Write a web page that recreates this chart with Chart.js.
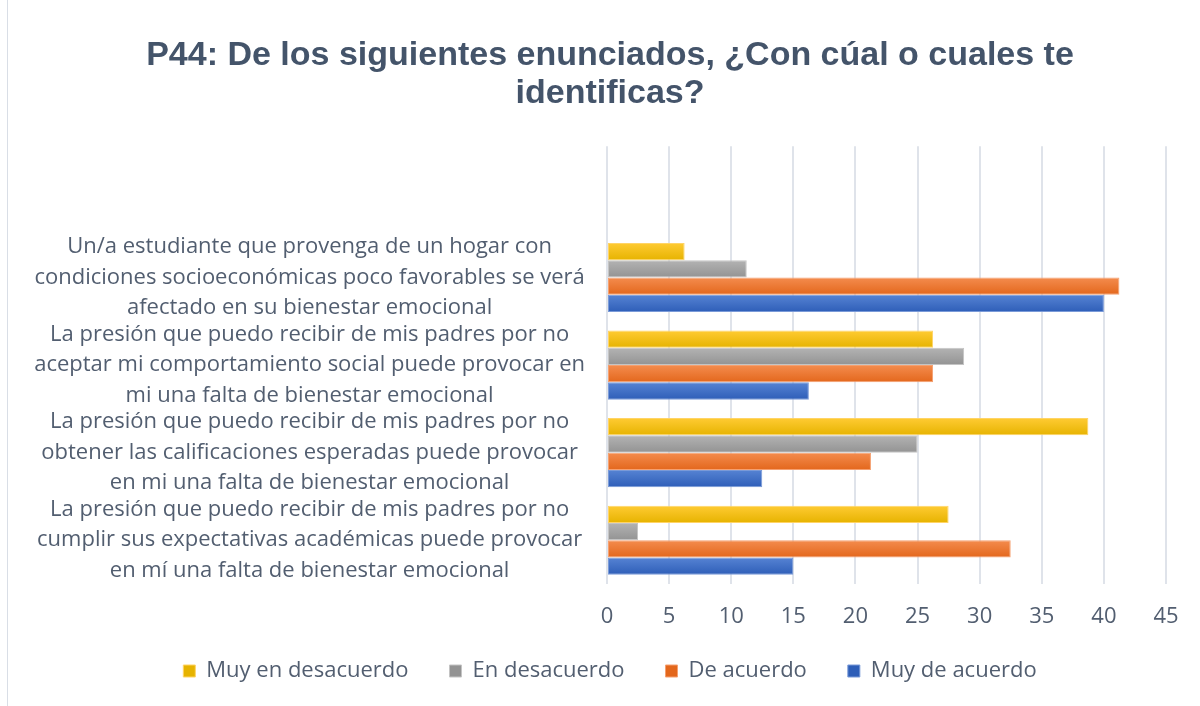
<!DOCTYPE html>
<html>
<head>
<meta charset="utf-8">
<script src="https://cdn.jsdelivr.net/npm/chart.js@4.4.1/dist/chart.umd.min.js"></script>
<style>
html, body { margin: 0; padding: 0; background: #fff; }
#wrap { position: relative; width: 1200px; height: 706px; overflow: hidden; }
#frame { position: absolute; left: 7px; top: 0; bottom: 0; border-left: 1px solid #d9dee6; }
canvas { position: absolute; left: 0; top: 0; }
</style>
</head>
<body>
<div id="wrap">
  <div id="frame"></div>
  <canvas id="p44Chart" width="1200" height="706"></canvas>
</div>
<script>
// first category is the empty slot Excel left at the top of the plot
const categories = [
    '',
    ['Un/a estudiante que provenga de un hogar con', 'condiciones socioeconómicas poco favorables se verá', 'afectado en su bienestar emocional'],
    ['La presión que puedo recibir de mis padres por no', 'aceptar mi comportamiento social puede provocar en', 'mi una falta de bienestar emocional'],
    ['La presión que puedo recibir de mis padres por no', 'obtener las calificaciones esperadas puede provocar', 'en mi una falta de bienestar emocional'],
    ['La presión que puedo recibir de mis padres por no', 'cumplir sus expectativas académicas puede provocar', 'en mí una falta de bienestar emocional']
];
const seriesNames = ['Muy en desacuerdo', 'En desacuerdo', 'De acuerdo', 'Muy de acuerdo'];
const muyEnDesacuerdo = [null, 6.25, 26.25, 38.75, 27.5];
const enDesacuerdo = [null, 11.25, 28.75, 25, 2.5];
const deAcuerdo = [null, 41.25, 26.25, 21.25, 32.5];
const muyDeAcuerdo = [null, 40, 16.25, 12.5, 15];
const xTicks = [0, 5, 10, 15, 20, 25, 30, 35, 40, 45];

const catPct = 0.79;
const textColor = '#525e70';
const bodyFont = 'Open Sans';

// Excel-like vertical shading on each bar
function barFill(top, bottom, flat) {
    return function (ctx) {
        if (ctx.type !== 'data') return flat;
        const chart = ctx.chart;
        const y = chart.scales.y;
        if (!y || !chart.chartArea) return flat;
        const band = (y.height / categories.length) * catPct / seriesNames.length;
        const c = y.getPixelForValue(ctx.dataIndex) + band * (ctx.datasetIndex - 1.5);
        const g = chart.ctx.createLinearGradient(0, c - band / 2, 0, c + band / 2);
        g.addColorStop(0, top);
        g.addColorStop(1, bottom);
        return g;
    };
}

const p44Ctx = document.getElementById('p44Chart').getContext('2d');
const p44Chart = new Chart(p44Ctx, {
    type: 'bar',
    data: {
        labels: categories,
        datasets: [{
            label: seriesNames[0],
            data: muyEnDesacuerdo,
            backgroundColor: barFill('#ffcb33', '#e6b300', '#ffc000'),
            borderColor: '#ffd466'
        }, {
            label: seriesNames[1],
            data: enDesacuerdo,
            backgroundColor: barFill('#b3b3b3', '#939393', '#a5a5a5'),
            borderColor: '#c4c4c4'
        }, {
            label: seriesNames[2],
            data: deAcuerdo,
            backgroundColor: barFill('#f48c4e', '#e3671c', '#ed7d31'),
            borderColor: '#f5a070'
        }, {
            label: seriesNames[3],
            data: muyDeAcuerdo,
            backgroundColor: barFill('#5683d3', '#2e5eb8', '#4472c4'),
            borderColor: '#7a9ad8'
        }]
    },
    options: {
        indexAxis: 'y',
        responsive: false,
        animation: false,
        datasets: {
            bar: {
                categoryPercentage: catPct,
                barPercentage: 1,
                borderWidth: 1,
                borderSkipped: false
            }
        },
        layout: {
            padding: { left: 20, right: 0, top: 37, bottom: 14 }
        },
        scales: {
            x: {
                min: 0,
                max: 45,
                afterBuildTicks: function (scale) {
                    scale.ticks = xTicks.map(v => ({ value: v }));
                },
                afterFit: function (scale) {
                    scale.paddingRight = 34;
                    scale.height = 46;
                },
                grid: { color: '#dfe3ea', lineWidth: 2, drawTicks: false },
                border: { display: false },
                ticks: {
                    color: textColor,
                    padding: 20,
                    font: { family: bodyFont, size: 22 }
                }
            },
            y: {
                afterFit: function (scale) {
                    scale.width = 587;
                },
                grid: { display: false, drawTicks: false },
                border: { display: false },
                ticks: {
                    color: textColor,
                    padding: 22,
                    autoSkip: false,
                    crossAlign: 'center',
                    font: { family: bodyFont, size: 22, lineHeight: 1.39 }
                }
            }
        },
        plugins: {
            title: {
                display: true,
                text: ['P44: De los siguientes enunciados, ¿Con cúal o cuales te', 'identificas?'],
                color: '#44546a',
                font: { family: 'Liberation Sans', size: 34, weight: 'bold', lineHeight: 1.12 },
                padding: { top: 0, bottom: 33 }
            },
            legend: {
                position: 'bottom',
                labels: {
                    color: textColor,
                    boxWidth: 12,
                    boxHeight: 12,
                    padding: 30,
                    font: { family: bodyFont, size: 22 },
                    generateLabels: function (chart) {
                        const items = Chart.defaults.plugins.legend.labels.generateLabels(chart);
                        // a little more room between entries, as in the Excel legend
                        items.forEach((it, i) => {
                            if (i < items.length - 1) it.text += '\u2002';
                        });
                        return items;
                    }
                }
            },
            tooltip: { enabled: false }
        }
    }
});
</script>
</body>
</html>
